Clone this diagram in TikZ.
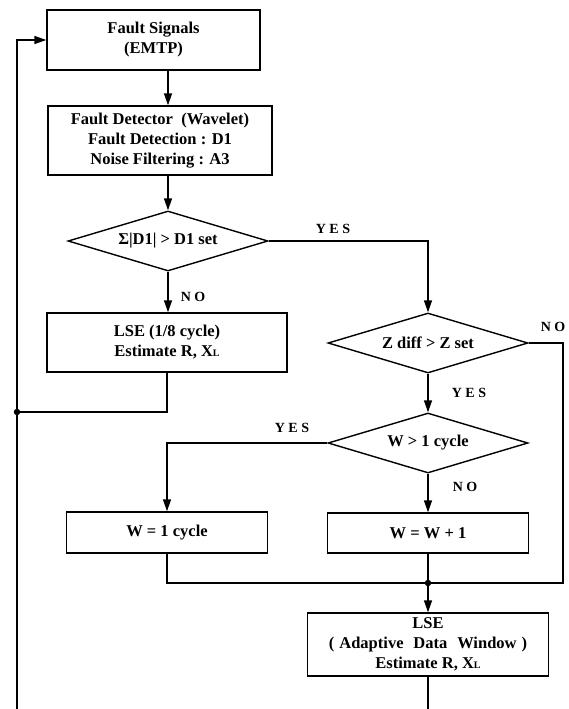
\documentclass[tikz,border=0pt]{standalone}
\usepackage{fontspec}
\setmainfont{Liberation Serif}
\usetikzlibrary{shapes.geometric,arrows.meta,calc}
\begin{document}
\begin{tikzpicture}[x=1pt,y=-1pt,
  box/.style={draw,line width=1.4pt,inner sep=0pt,align=center,font=\bfseries\fontsize{16.5}{20}\selectfont},
  dec/.style={draw,diamond,aspect=3.3,line width=1.4pt,inner sep=0pt,minimum width=200pt,minimum height=60pt,font=\bfseries\fontsize{16.5}{20}\selectfont},
  conn/.style={line width=1.4pt},
  arr/.style={conn,-{Triangle[length=12pt,width=8pt]}},
  lbl/.style={font=\bfseries\fontsize{14}{16}\selectfont,inner sep=0pt},
  dot/.style={circle,fill,inner sep=0pt,minimum size=6.5pt}]
\useasboundingbox (0,0) rectangle (569,709);

\node[box,minimum width=213pt,minimum height=60pt] (fs) at (153.5,40) {Fault Signals\\(EMTP)};
\node[box,minimum width=224pt,minimum height=69pt] (fd) at (160,140.5) {Fault Detector\ \ (Wavelet)\\Fault Detection : D1\\Noise Filtering : A3};
\node[dec] (d1) at (168,241) {Σ|D1| > D1 set};
\node[box,minimum width=240pt,minimum height=59pt] (lse1) at (167,342.5) {LSE (1/8 cycle)\\Estimate R, X{\fontsize{10}{10}\selectfont L}};
\node[dec] (d2) at (428,343) {Z diff > Z set};
\node[dec] (d3) at (428,443) {W > 1 cycle};
\node[box,minimum width=201pt,minimum height=41pt] (w1) at (167,532.5) {W = 1 cycle};
\node[box,minimum width=201pt,minimum height=40pt] (ww) at (428,533) {W = W + 1};
\node[box,minimum width=241pt,minimum height=63pt] (lse2) at (428,644.5) {LSE\\(\hspace{0.3em}Adaptive\hspace{0.6em}Data\hspace{0.6em}Window\hspace{0.3em})\\Estimate R, X{\fontsize{10}{10}\selectfont L}};

\node[dot] (j1) at (17,412) {};
\node[dot] (j2) at (428,583) {};
\coordinate (cx) at (168,0);
\coordinate (nr) at (563,343);
\coordinate (e1) at (17,709);
\coordinate (e2) at (428,709);

\node[lbl] (yes1) at (333,229) {Y E S};
\node[lbl] (no1) at (193,297) {N O};
\node[lbl] (no2) at (553,327) {N O};
\node[lbl] (yes2) at (469,393) {Y E S};
\node[lbl] (yes3) at (292,428) {Y E S};
\node[lbl] (no3) at (465,487) {N O};

\draw[arr] (cx |- fs.south) -- (cx |- fd.north);
\draw[arr] (cx |- fd.south) -- (d1.north);
\draw[arr] (d1.south) -- (d1.south |- lse1.north);
\draw[arr] (d1.east) -| (d2.north);
\draw[arr] (d2.south) -- (d3.north);
\draw[conn] (d2.east) -- (nr) -- (nr |- j2) -- (j2.center);
\draw[arr] (d3.west) -| (w1.north);
\draw[arr] (d3.south) -- (ww.north);
\draw[conn] (w1.south) |- (j2.center);
\draw[conn] (ww.south) -- (j2.center);
\draw[arr] (j2.center) -- (lse2.north);
\draw[conn] (lse2.south) -- (e2);
\draw[conn] (lse1.south) |- (j1.center);
\draw[arr] (e1) |- (fs.west);
\end{tikzpicture}
\end{document}
